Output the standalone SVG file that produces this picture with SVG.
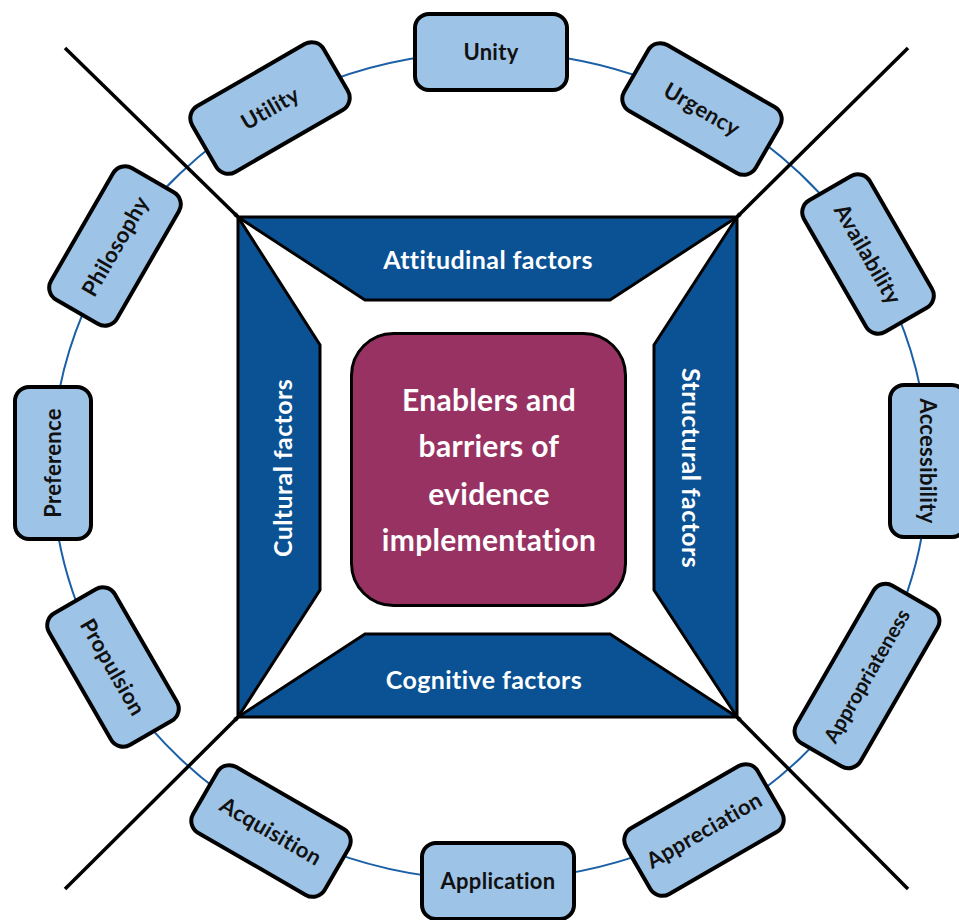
<svg xmlns="http://www.w3.org/2000/svg" width="959" height="920" viewBox="0 0 959 920">
  <style>
    .ring { fill: none; stroke: #1b5fa6; stroke-width: 2; }
    .axis { stroke: #000; stroke-width: 3.5; stroke-linecap: butt; }
    .pill text { font-family: Lato, "Open Sans", "Liberation Sans", sans-serif; font-weight: 700; font-size: 22px; letter-spacing: 0.3px; fill: #111; text-anchor: middle; }
    .pill text.long { font-size: 20.5px; letter-spacing: 0; }
    .band { fill: #0a5294; stroke: #000; stroke-width: 3; stroke-linejoin: miter; }
    .band-label { font-family: Lato, "Open Sans", "Liberation Sans", sans-serif; font-weight: 700; font-size: 25px; letter-spacing: 0.4px; fill: #fff; text-anchor: middle; }
    .core rect { fill: #973262; stroke: #000; stroke-width: 3; }
    .core text { font-family: Lato, "Open Sans", "Liberation Sans", sans-serif; font-weight: 700; font-size: 30px; letter-spacing: 0.3px; fill: #fff; text-anchor: middle; }
  </style>
  <defs>
    <rect id="pillShape" x="-76" y="-38" width="152" height="76" rx="14" ry="14" fill="#9dc3e6" stroke="#000" stroke-width="4"/>
    <rect id="pillLong" x="-91" y="-37" width="182" height="74" rx="14" ry="14" fill="#9dc3e6" stroke="#000" stroke-width="4"/>
  </defs>
  <rect width="959" height="920" fill="#fff"/>

  <!-- connectors: the ring and the two diagonal axes -->
  <g id="connectors">
    <ellipse class="ring" cx="490" cy="466" rx="438" ry="414"/>
    <line class="axis" x1="65" y1="48" x2="238" y2="217"/>
    <line class="axis" x1="908" y1="48" x2="737" y2="217"/>
    <line class="axis" x1="65" y1="889" x2="238" y2="717"/>
    <line class="axis" x1="908" y1="889" x2="737" y2="717"/>
  </g>

  <!-- factor bands of the square frame -->
  <g id="attitudinal">
    <polygon class="band" points="238,217 737,217 610,300 365,300"/>
    <text class="band-label" x="488" y="269">Attitudinal factors</text>
  </g>
  <g id="cognitive">
    <polygon class="band" points="238,717 365,634 610,634 737,717"/>
    <text class="band-label" x="484" y="689">Cognitive factors</text>
  </g>
  <g id="cultural">
    <polygon class="band" points="238,217 320,345 320,590 238,717"/>
    <text class="band-label" transform="translate(292,468) rotate(-90)">Cultural factors</text>
  </g>
  <g id="structural">
    <polygon class="band" points="737,217 737,717 654,590 654,345"/>
    <text class="band-label" transform="translate(682,468) rotate(90)">Structural factors</text>
  </g>

  <!-- central node -->
  <g id="core" class="core">
    <rect x="351.5" y="333.5" width="274" height="272" rx="42" ry="42"/>
    <text x="489" y="411">Enablers and</text>
    <text x="489" y="457">barriers of</text>
    <text x="489" y="505">evidence</text>
    <text x="489" y="551">implementation</text>
  </g>

  <!-- ring nodes -->
  <g id="unity" class="pill" transform="translate(491,52)">
    <use href="#pillShape"/><text y="8">Unity</text>
  </g>
  <g id="urgency" class="pill" transform="translate(702,109) rotate(30)">
    <use href="#pillShape"/><text y="8">Urgency</text>
  </g>
  <g id="availability" class="pill" transform="translate(868,254) rotate(60)">
    <use href="#pillShape"/><text y="8">Availability</text>
  </g>
  <g id="accessibility" class="pill" transform="translate(928,461) rotate(90)">
    <use href="#pillShape"/><text y="8">Accessibility</text>
  </g>
  <g id="appropriateness" class="pill" transform="translate(867,676) rotate(-60)">
    <use href="#pillLong"/><text class="long" y="7">Appropriateness</text>
  </g>
  <g id="appreciation" class="pill" transform="translate(704,830) rotate(-30)">
    <use href="#pillShape"/><text y="8">Appreciation</text>
  </g>
  <g id="application" class="pill" transform="translate(498,881)">
    <use href="#pillShape"/><text y="8">Application</text>
  </g>
  <g id="acquisition" class="pill" transform="translate(271,831) rotate(30)">
    <use href="#pillShape"/><text y="8">Acquisition</text>
  </g>
  <g id="propulsion" class="pill" transform="translate(113,667) rotate(60)">
    <use href="#pillShape"/><text y="8">Propulsion</text>
  </g>
  <g id="preference" class="pill" transform="translate(53,463) rotate(-90)">
    <use href="#pillShape"/><text y="8">Preference</text>
  </g>
  <g id="philosophy" class="pill" transform="translate(115,246) rotate(-60)">
    <use href="#pillShape"/><text y="8">Philosophy</text>
  </g>
  <g id="utility" class="pill" transform="translate(270,108) rotate(-30)">
    <use href="#pillShape"/><text y="8">Utility</text>
  </g>
</svg>
